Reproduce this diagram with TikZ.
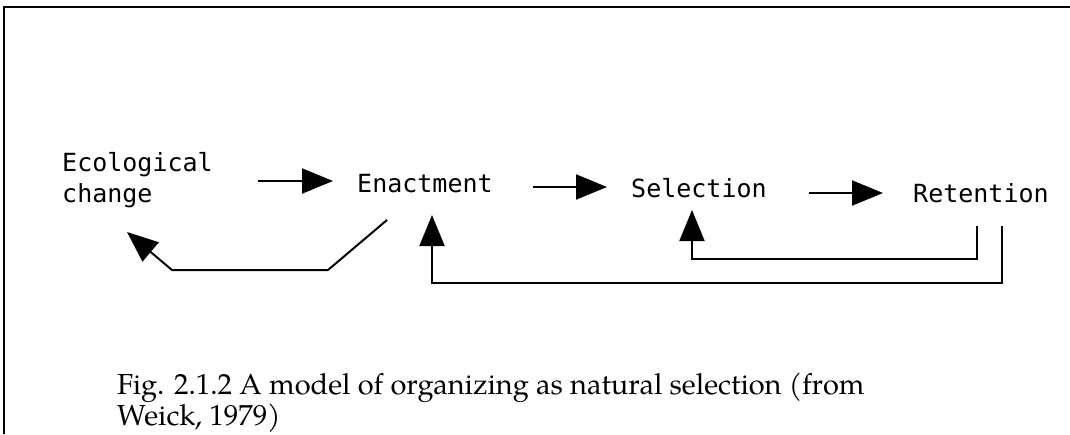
\documentclass[tikz,border=0pt]{standalone}
\usepackage{fontspec}
\newfontfamily\labelfont{DejaVu Sans Mono}
\newfontfamily\capfont{TeX Gyre Pagella}
\usetikzlibrary{arrows.meta}
\begin{document}
\begin{tikzpicture}[x=1pt,y=-1pt,
  lbl/.style={font=\labelfont\fontsize{25}{31}\selectfont, inner sep=0pt, align=left},
  flow/.style={line width=2pt, -{Triangle[length=31pt,width=25pt]}},
  frame/.style={line width=1.6pt},
  caption/.style={font=\capfont\fontsize{29}{27}\selectfont, inner sep=0pt, align=left, anchor=west}]
\useasboundingbox (0,0) rectangle (1070,434);

% page frame: top rule and left rule only
\draw[frame] (1070,7) -- (4,7) -- (4,434);

% stages of the model
\node[lbl, anchor=west] (eco) at (62,180) {Ecological\\change};
\node[lbl, anchor=base west] (enact) at (357,192) {Enactment};
\node[lbl, anchor=base west] (select) at (631,197) {Selection};
\node[lbl, anchor=base west] (retain) at (913,202) {Retention};

% forward arrows between stages
\coordinate (a1s) at (258,181); \coordinate (a1e) at (333,181);
\coordinate (a2s) at (533,187); \coordinate (a2e) at (607,187);
\coordinate (a3s) at (809,193); \coordinate (a3e) at (883,193);
\draw[flow] (a1s) -- (a1e);
\draw[flow] (a2s) -- (a2e);
\draw[flow] (a3s) -- (a3e);

% feedback: enactment back to ecological change
\coordinate (f1a) at (387,220);
\coordinate (f1b) at (328,270);
\coordinate (f1c) at (172,270);
\coordinate (f1d) at (127,232);
\draw[flow, line join=miter] (f1a) -- (f1b) -- (f1c) -- (f1d);

% feedback: retention back to selection
\coordinate (f2a) at (977,226);
\coordinate (f2b) at (977,259);
\coordinate (f2c) at (692,259);
\coordinate (f2d) at (692,210);
\draw[flow] (f2a) -- (f2b) -- (f2c) -- (f2d);

% feedback: retention back to enactment
\coordinate (f3a) at (1002,226);
\coordinate (f3b) at (1002,283);
\coordinate (f3c) at (432,283);
\coordinate (f3d) at (432,215);
\draw[flow] (f3a) -- (f3b) -- (f3c) -- (f3d);

% caption
\node[caption] (cap) at (117,403) {Fig. 2.1.2 A model of organizing as natural selection (from\\Weick, 1979)};
\end{tikzpicture}
\end{document}
